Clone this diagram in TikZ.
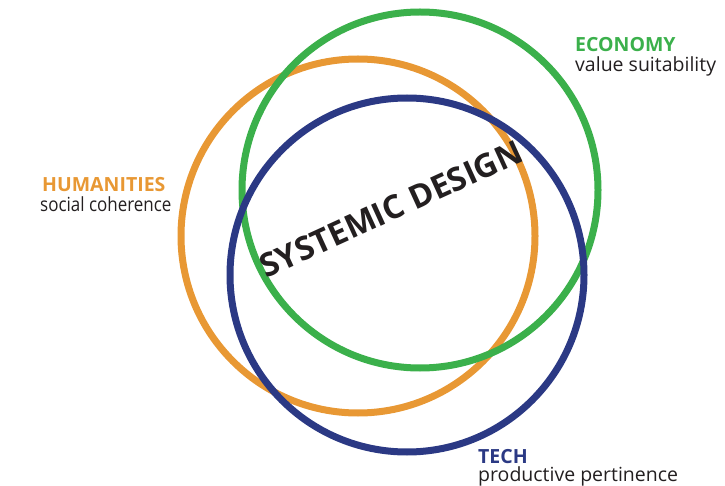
\documentclass[tikz,border=0pt]{standalone}
\usepackage{fontspec}
\setmainfont{Open Sans}
\usetikzlibrary{positioning}
\definecolor{ecogreen}{RGB}{59,176,75}
\definecolor{humorange}{RGB}{232,152,52}
\definecolor{techblue}{RGB}{43,57,132}
\definecolor{textgray}{RGB}{35,31,32}
\tikzstyle{ring} = [circle, minimum size=354pt, inner sep=0pt, line width=7pt]
\tikzstyle{title} = [font=\bfseries\fontsize{19.5}{20}\selectfont, inner sep=0pt, anchor=base west]
\tikzstyle{sub} = [font=\fontsize{19.5}{20}\selectfont, text=textgray, inner sep=0pt, anchor=base west]

\begin{document}
\begin{tikzpicture}[x=1pt,y=-1pt]
\useasboundingbox (0,0) rectangle (725,486);

% rings
\node (humanities) at (358,236) [ring, draw=humorange] {};
\node (economy) at (420,190) [ring, draw=ecogreen, minimum size=356pt] {};
\node (tech) at (407,275) [ring, draw=techblue] {};

% centre text
\node (design) at (391,209) [rotate=24.5, text=textgray, inner sep=0pt, font=\bfseries\fontsize{32.5}{34}\selectfont] {SYSTEMIC DESIGN};

% labels
\node (ecotitle) at (575,52) [title, text=ecogreen] {ECONOMY};
\node (ecosub) at (575,72) [sub] {value suitability};
\node (humtitle) at (42,192) [title, text=humorange] {HUMANITIES};
\node (humsub) at (40,212) [sub] {\addfontfeature{FakeStretch=0.87}social coherence};
\node (techtitle) at (478,463) [title, text=techblue] {TECH};
\node (techsub) at (478,481) [sub] {productive pertinence};

\end{tikzpicture}
\end{document}
